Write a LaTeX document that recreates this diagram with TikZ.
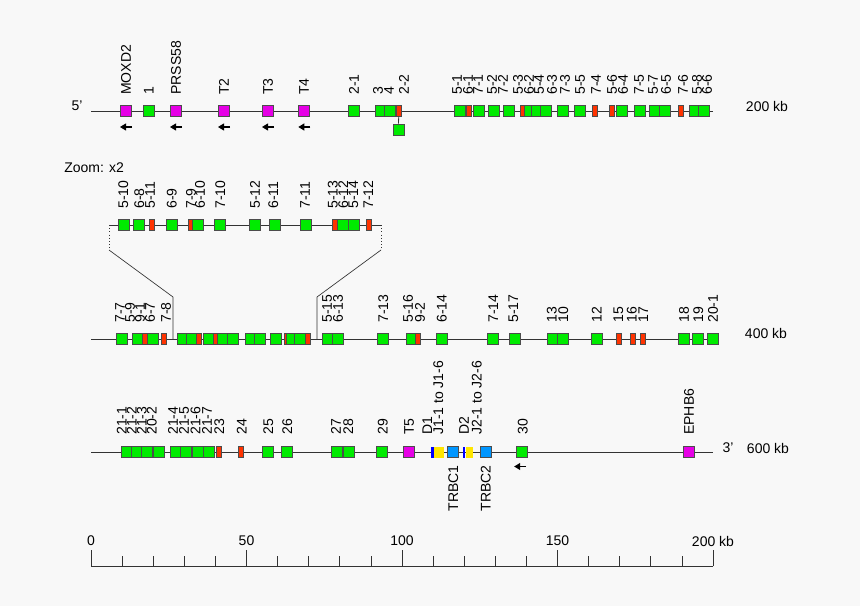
\documentclass[tikz,border=0pt]{standalone}
\usepackage{fontspec}
\setmainfont{Liberation Sans}
\usepackage{xcolor}
\usetikzlibrary{arrows.meta, calc}

\definecolor{bggray}{RGB}{248,248,248}
\definecolor{trvgreen}{RGB}{0,235,0}
\definecolor{pseudored}{RGB}{255,51,0}
\definecolor{othermag}{RGB}{230,0,230}
\definecolor{cblue}{RGB}{0,150,255}
\definecolor{dblue}{RGB}{0,0,255}
\definecolor{jyellow}{RGB}{255,230,0}

\newcommand{\lblfont}{\fontsize{10.5}{12}\selectfont}

\tikzset{
  genebox/.style={draw=black!70, line width=0.5pt, inner sep=0pt,
    minimum width=8.25pt, minimum height=8.25pt},
  trv/.style={genebox, fill=trvgreen},
  pseudo/.style={genebox, fill=pseudored, minimum width=3.75pt},
  other/.style={genebox, fill=othermag},
  cgene/.style={genebox, fill=cblue},
  dseg/.style={genebox, draw=none, fill=dblue, minimum width=1.9pt},
  jseg/.style={genebox, draw=none, fill=jyellow, minimum width=7.5pt},
  jsegb/.style={genebox, draw=none, fill=jyellow, minimum width=5.25pt},
  glabel/.style={rotate=90, anchor=west, inner sep=0pt, font=\lblfont},
  blabel/.style={rotate=90, anchor=east, inner sep=0pt, font=\lblfont},
  sidetext/.style={inner sep=0pt, font=\lblfont},
  rowline/.style={black!80, line width=0.6pt},
  dirarrow/.style={-{Triangle[length=4.5pt,width=5.25pt]}, line width=0.8pt}
}

\begin{document}
\begin{tikzpicture}[x=0.75pt, y={(0pt,-0.75pt)}]

\fill[bggray] (0,0) rectangle (860,606);
\useasboundingbox (0,0) rectangle (860,606);

% ------------------------------------------------------------
% Row 1: 5' end to 200 kb
% ------------------------------------------------------------
\coordinate (r1s) at (91,111);
\coordinate (r1e) at (713,111);
\draw[rowline] (r1s) -- (r1e);

\foreach \x/\c [count=\i] in {126/other, 148.7/trv, 176/other, 224/other,
  268/other, 304.3/other, 353.5/trv, 380.7/trv, 390/trv, 398.7/pseudo,
  460/trv, 469.3/pseudo, 478.7/trv, 494/trv, 509/trv, 523/pseudo,
  529.7/trv, 536.7/trv, 545.7/trv, 563/trv, 580/trv, 595/pseudo,
  611.7/pseudo, 621.7/trv, 640/trv, 654.7/trv, 665/trv, 681.3/pseudo,
  695/trv, 704/trv} {
  \node[\c] (a\i) at (\x,111) {};
}

% 2-2 has a second box hanging below the line
\node[trv] (a22) at (398.5,129.5) {};
\draw[rowline] (a10.south) -- (a22.north);

\foreach \x/\t [count=\i] in {126/MOXD2, 148.7/1, 176/PRSS58, 224/T2,
  268/T3, 304/T4, 354/2-1, 378/3, 389/4, 404/2-2, 457/5-1, 468/6-1,
  478/7-1, 492/5-2, 503/7-2, 518/5-3, 529/6-2, 539/5-4, 552/6-3,
  565/7-3, 580/5-5, 596/7-4, 612/5-6, 623/6-4, 639/7-5, 653/5-7,
  666/6-5, 683/7-6, 697/5-8, 707/6-6} {
  \node[glabel] (la\i) at (\x,95) {\t};
}

% reverse orientation
\foreach \i in {1,3,4,5,6} {
  \draw[dirarrow] ($(a\i.center)+(6,16)$) -- ++(-12,0);
}

\node[sidetext] (end5) at (77,106) {5'};
\node[sidetext] (kb200) at (767,106) {200 kb};

% ------------------------------------------------------------
% Zoom: x2 inset
% ------------------------------------------------------------
\node[sidetext, anchor=west] (zoomtxt) at (64,168) {Zoom: x2};

\coordinate (zl) at (109,225);
\coordinate (zr) at (381,225);
\draw[rowline] (zl) -- (zr);

\foreach \x/\c [count=\i] in {124/trv, 139/trv, 151.7/pseudo, 171.7/trv,
  191.3/pseudo, 198.3/trv, 220.3/trv, 255/trv, 275/trv, 306/trv,
  335/pseudo, 342.7/trv, 354.3/trv, 369/pseudo} {
  \node[\c] (z\i) at (\x,225) {};
}

\foreach \x/\t [count=\i] in {123.3/5-10, 139.3/6-8, 150/5-11, 171.7/6-9,
  191/7-9, 200/6-10, 220.3/7-10, 255/5-12, 273.3/6-11, 305/7-11,
  332.7/5-13, 343.3/6-12, 353.3/5-14, 368.3/7-12} {
  \node[glabel] (lz\i) at (\x,209) {\t};
}

% inset guide lines
\coordinate (zlb) at (109,250);
\coordinate (zrb) at (381,250);
\coordinate (rl) at (173,297);
\coordinate (rr) at (317,297);
\coordinate (rl0) at (173,339);
\coordinate (rr0) at (317,339);
\draw[black!80, dotted] (zl) -- (zlb);
\draw[black!80, dotted] (zr) -- (zrb);
\draw[black!80, line width=0.5pt] (zlb) -- (rl) -- (rl0);
\draw[black!80, line width=0.5pt] (zrb) -- (rr) -- (rr0);

% ------------------------------------------------------------
% Row 2: to 400 kb
% ------------------------------------------------------------
\coordinate (r2s) at (91,339);
\coordinate (r2e) at (713,339);
\draw[rowline] (r2s) -- (r2e);

\foreach \x/\c [count=\i] in {122.3/trv, 137.7/trv, 145.3/pseudo,
  153.3/trv, 164/pseudo, 183.3/trv, 191.7/trv, 199/pseudo, 209/trv,
  215.5/pseudo, 222.7/trv, 233.3/trv, 250.7/trv, 260/trv, 276/trv,
  287.3/pseudo, 292.3/trv, 300/trv, 307.7/pseudo, 328.3/trv, 338.3/trv,
  383.3/trv, 411.7/trv, 417.7/pseudo, 441.7/trv, 493.3/trv, 514.7/trv,
  552.7/trv, 562.7/trv, 596.7/trv, 619.3/pseudo, 632.7/pseudo,
  643.3/pseudo, 684/trv, 698/trv, 713/trv} {
  \node[\c] (b\i) at (\x,339) {};
}

\foreach \x/\t [count=\i] in {120/7-7, 130/5-9, 140/9-1, 150/6-7,
  166/7-8, 327/5-15, 338/6-13, 383.3/7-13, 408/5-16, 420/9-2,
  441.7/6-14, 493.3/7-14, 513.3/5-17, 551.7/13, 563.3/10, 596.7/12,
  618.3/15, 631.7/16, 643.3/17, 684/18, 698.3/19, 713/20-1} {
  \node[glabel] (lb\i) at (\x,323) {\t};
}

\node[sidetext] (kb400) at (766,333) {400 kb};

% ------------------------------------------------------------
% Row 3: to 3' end, 600 kb
% ------------------------------------------------------------
\coordinate (r3s) at (91,452);
\coordinate (r3e) at (713,452);
\draw[rowline] (r3s) -- (r3e);

\foreach \x/\c [count=\i] in {127.3/trv, 137.3/trv, 147.3/trv, 159.3/trv,
  175.7/trv, 185.7/trv, 198.3/trv, 209/trv, 219/pseudo, 241/pseudo,
  268.3/trv, 286.7/trv, 336.7/trv, 349/trv, 381.7/trv, 409/other,
  432.3/dseg, 439/jseg, 452.7/cgene, 464/dseg, 469/jsegb, 485.7/cgene,
  521.7/trv, 689.3/other} {
  \node[\c] (c\i) at (\x,452) {};
}

\foreach \x/\t [count=\i] in {121.7/21-1, 131.7/21-2, 141.7/21-3,
  151.7/20-2, 173/21-4, 184/21-5, 195.5/21-6, 207/21-7, 219.3/23,
  241.7/24, 268.3/25, 287.3/26, 336/27, 348.3/28, 382.7/29, 409/T5,
  427.3/D1, 438.3/J1-1 to J1-6, 464/D2, 476.7/J2-1 to J2-6, 522.7/30,
  689/EPHB6} {
  \node[glabel] (lc\i) at (\x,435) {\t};
}

\node[blabel] (ltrbc1) at (453.3,465) {TRBC1};
\node[blabel] (ltrbc2) at (485.7,465) {TRBC2};

\draw[dirarrow] ($(c23.center)+(4.5,14.5)$) -- ++(-12,0);

\node[sidetext] (end3) at (728,448) {3'};
\node[sidetext] (kb600) at (768,448) {600 kb};

% ------------------------------------------------------------
% Scale bar, 0 to 200 kb
% ------------------------------------------------------------
\coordinate (sc0) at (91,566);
\coordinate (sc200) at (713,566);
\draw[rowline] (sc0) -- (sc200);

\foreach \k in {0,...,20} {
  \draw[rowline] ($(sc0)+(31.1*\k,0)$) -- ++(0,-10);
}
\foreach \k/\t [count=\i] in {0/0, 5/50, 10/100, 15/150, 20/200 kb} {
  \draw[rowline] ($(sc0)+(31.1*\k,0)$) -- ++(0,-16);
  \node[sidetext] (ls\i) at ($(sc0)+(31.1*\k,-25)$) {\t};
}

\end{tikzpicture}
\end{document}
